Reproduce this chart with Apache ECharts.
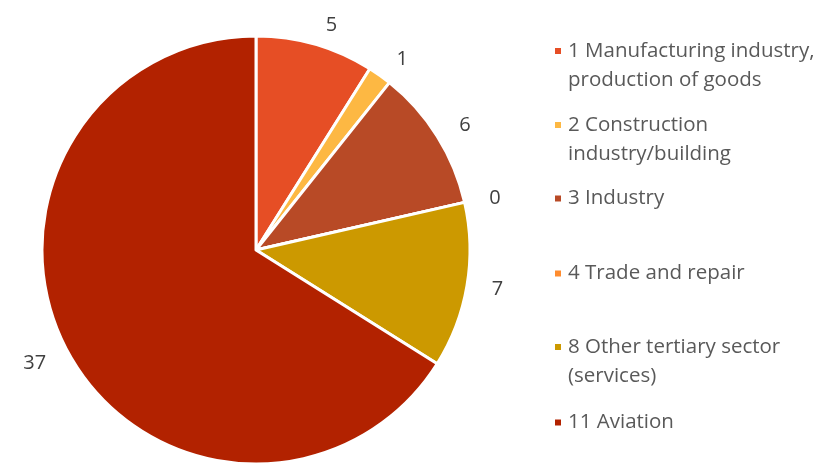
<!DOCTYPE html>
<html>
<head>
<meta charset="utf-8">
<script src="https://cdn.jsdelivr.net/npm/echarts@6/dist/echarts.min.js"></script>
<style>
html, body { margin: 0; padding: 0; background: #fff; }
#main { width: 836px; height: 463px; }
</style>
</head>
<body>
<div id="main"></div>
<script>
// sector names (legend text) and counts
var categories = [
    '1 Manufacturing industry,\nproduction of goods',
    '2 Construction\nindustry/building',
    '3 Industry',
    '4 Trade and repair',
    '8 Other tertiary sector\n(services)',
    '11 Aviation'
];
var values = [5, 1, 6, 0, 7, 37];
var colors = ['#e64e25', '#fdb843', '#b84a26', '#ff8c2f', '#cc9900', '#b22200'];

// legend entry tops (Excel spreads them unevenly)
var legendTops = [32, 106, 179, 254, 328, 403];

var chart = echarts.init(document.getElementById('main'));

var font = 'Open Sans';

var legends = categories.map(function (name, i) {
    var twoLine = name.indexOf('\n') >= 0;
    return {
        orient: 'vertical',
        left: 548,
        top: legendTops[i],
        itemWidth: 8,
        itemHeight: twoLine ? 38 : 8,
        // square sits on the first text line
        icon: twoLine ? 'path://M0,0H8V8H0Z M0,37.95H0.05V38H0Z' : 'rect',
        itemGap: 0,
        selectedMode: false,
        textStyle: {
            color: '#595959',
            fontSize: 20.5,
            fontFamily: font,
            lineHeight: 29,
            padding: [0, 0, 0, 1]
        },
        data: [name]
    };
});

var option = {
    color: colors,
    animation: false,
    legend: legends,
    series: [{
        type: 'pie',
        center: [256, 250],
        radius: 214,
        startAngle: 90,
        clockwise: true,
        avoidLabelOverlap: false,
        itemStyle: {
            borderColor: '#fff',
            borderWidth: 3
        },
        label: {
            show: true,
            position: 'outside',
            formatter: '{c}',
            color: '#404040',
            fontSize: 20,
            fontFamily: font
        },
        labelLine: {
            show: false,
            length: 20,
            length2: 0
        },
        data: categories.map(function (name, i) {
            return { name: name, value: values[i] };
        })
    }]
};

chart.setOption(option);
</script>
</body>
</html>
